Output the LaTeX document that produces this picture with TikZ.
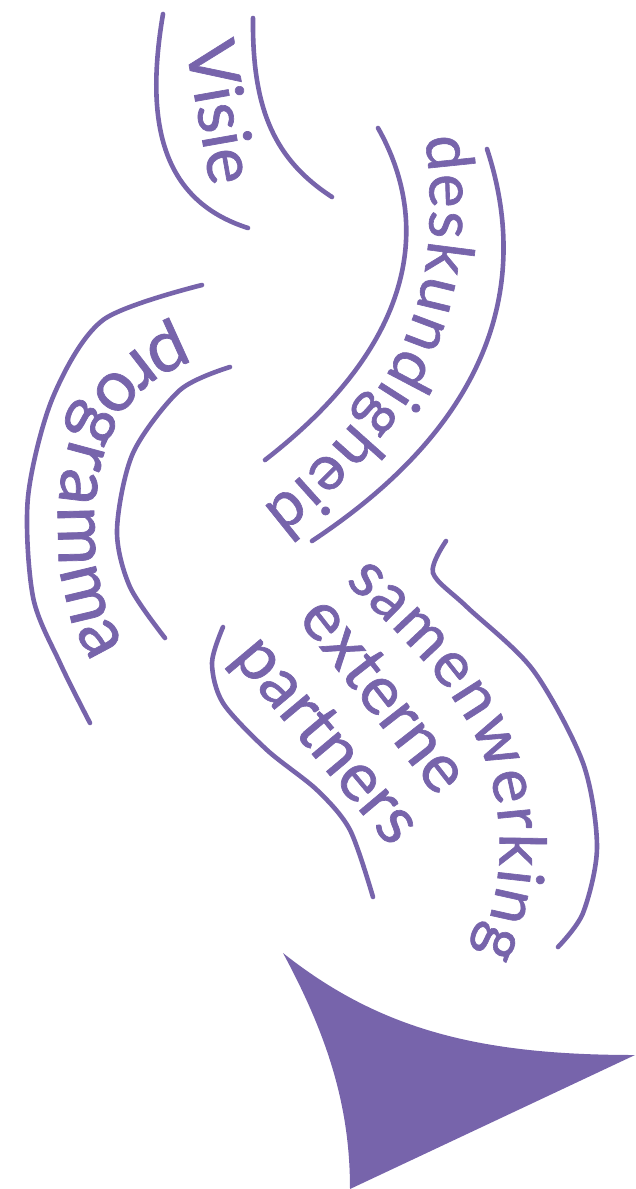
\documentclass[tikz,border=0pt]{standalone}
\usepackage{fontspec}
\setmainfont{Lato}[FakeBold=1]
\usetikzlibrary{decorations.text}
\definecolor{lila}{RGB}{119,100,171}
\newcommand\wordfont{\fontsize{17}{20}\selectfont}
\tikzset{
  wave/.style={draw=lila, line width=1.15pt, line cap=round},
  word/.style={text=lila, font=\wordfont, inner sep=0pt, anchor=base},
  bentword/.style 2 args={decorate, decoration={text along path,
    text={|\fontsize{#1}{#1}\selectfont|#2}, text color=lila, text align=fit to path}},
  sail/.style={fill=lila}
}

\begin{document}
\begin{tikzpicture}[x=0.25pt,y=-0.25pt]
  \useasboundingbox (0,0) rectangle (635,1189);

  % Visie
  \draw[wave] (163,14) .. controls (145,120) and (160,200) .. (248,228);
  \draw[wave] (253,18) .. controls (252,110) and (275,160) .. (332,197);
  \node[word, rotate=-80] (visie) at (198,116) {Visie};

  % deskundigheid
  \draw[wave] (378,128) .. controls (430,220) and (420,340) .. (265,460);
  \draw[wave] (487,149) .. controls (530,280) and (495,420) .. (312,541);
  \path[bentword={16}{deskundigheid}] (425,137) .. controls (440,250) and (420,330) .. (370,400)
    .. controls (340,440) and (300,480) .. (262,508);

  % programma
  \draw[wave] plot[smooth] coordinates {(202,285) (103,320) (53,397) (28,497) (33,597) (60,663) (90,723)};
  \draw[wave] plot[smooth] coordinates {(230,367) (180,390) (133,453) (117,530) (130,587) (165,638)};
  \path[bentword={18}{programma}] (179,328) .. controls (110,350) and (68,410) .. (60,490)
    .. controls (52,570) and (70,630) .. (93,662);

  % samenwerking externe partners
  \draw[wave] plot[smooth] coordinates {(446,541) (433,573) (467,607) (533,670) (583,763) (597,847) (583,913) (558,947)};
  \draw[wave] plot[smooth] coordinates {(223,627) (212,663) (223,703) (267,750) (317,790) (350,830) (373,897)};
  \path[bentword={16}{samenwerking}] (345,582) .. controls (400,635) and (460,690) .. (485,760)
    .. controls (510,830) and (500,905) .. (476,952);
  \node[word, rotate=-52] (externe) at (367,708) {externe};
  \node[word, rotate=-50] (partners) at (311,753) {partners};

  % zeil onderaan
  \fill[sail] (283,953) .. controls (380,1030) and (480,1055) .. (635,1055)
    -- (350,1189) .. controls (350,1110) and (330,1040) .. (283,953) -- cycle;
\end{tikzpicture}
\end{document}
